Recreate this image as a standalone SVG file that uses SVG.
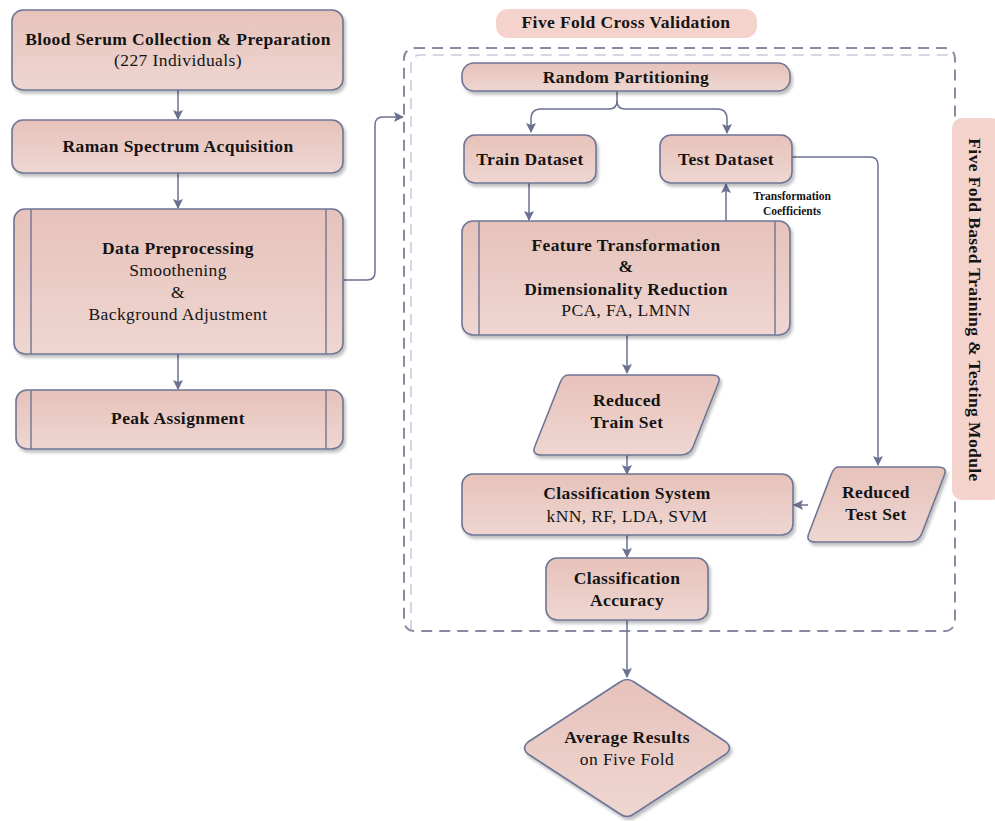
<svg xmlns="http://www.w3.org/2000/svg" width="995" height="821" viewBox="0 0 995 821">
<defs>
<linearGradient id="g" x1="0" y1="0" x2="0" y2="1">
<stop offset="0" stop-color="#e6c2ba"/>
<stop offset="1" stop-color="#efd6d1"/>
</linearGradient>
<filter id="sh" x="-10%" y="-10%" width="120%" height="130%">
<feDropShadow dx="2" dy="3" stdDeviation="1.5" flood-color="#000" flood-opacity="0.25"/>
</filter>
<marker id="ar" markerWidth="10" markerHeight="10" refX="9" refY="5" orient="auto" markerUnits="userSpaceOnUse">
<path d="M0,0 L10,5 L0,10 L2,5 Z" fill="#6b7291"/>
</marker>
</defs>
<style>
.n{fill:url(#g);stroke:#6e7595;stroke-width:1.6;filter:url(#sh)}
.il{stroke:#6e7595;stroke-width:1.4;fill:none}
.c{fill:none;stroke:#6b7291;stroke-width:1.5}
.a{marker-end:url(#ar)}
text{font-family:"Liberation Serif","Times New Roman",serif;fill:#141414;text-anchor:middle;font-size:17.5px;letter-spacing:0.4px}
.b{font-weight:bold}
.sm{font-size:11.5px;letter-spacing:0}
.lab{fill:#f4d3cd}
.dash{fill:none;stroke:#878ca3;stroke-width:2;stroke-dasharray:11 7}
.dash2{fill:none;stroke:#c9ccd6;stroke-width:1.5;stroke-dasharray:11 7}
</style>
<rect width="995" height="821" fill="#ffffff"/>

<g id="cv-frame">
<path class="dash2" d="M411,631 V65 Q411,55 421,55 H955"/>
<rect class="dash" x="404" y="48" width="551" height="583" rx="10"/>
</g>

<g id="label-cv">
<rect class="lab" x="496" y="9" width="261" height="29" rx="12"/>
<text class="b" x="626" y="28">Five Fold Cross Validation</text>
</g>

<g id="label-module">
<rect class="lab" x="952" y="118" width="50" height="382" rx="10"/>
<text class="b" transform="translate(969,310) rotate(90)">Five Fold Based Training  &amp; Testing Module</text>
</g>

<g id="connectors">
<line class="c a" x1="178" y1="90" x2="178" y2="119"/>
<line class="c a" x1="178" y1="173" x2="178" y2="208"/>
<line class="c a" x1="178" y1="354" x2="178" y2="389"/>
<path class="c a" d="M343,280 H367 Q375,280 375,272 V125 Q375,117 383,117 H403"/>
<path class="c" d="M617,91 V101 Q617,109 609,109 H541 Q531,109 531,119 V132" marker-end="url(#ar)"/>
<path class="c" d="M617,101 Q617,109 625,109 H717 Q727,109 727,119 V133" marker-end="url(#ar)"/>
<line class="c a" x1="529" y1="183" x2="529" y2="220"/>
<line class="c a" x1="726" y1="221" x2="726" y2="184"/>
<path class="c a" d="M792,157 H870 Q878,157 878,165 V465"/>
<line class="c a" x1="627" y1="335" x2="627" y2="373"/>
<line class="c a" x1="627" y1="455" x2="627" y2="474"/>
<line class="c a" x1="808" y1="505" x2="794" y2="505"/>
<line class="c a" x1="627" y1="535" x2="627" y2="557"/>
<line class="c a" x1="627" y1="620" x2="627" y2="677"/>
<text class="b sm" x="792" y="200">Transformation</text>
<text class="b sm" x="792" y="215">Coefficients</text>
</g>

<g id="blood-serum">
<rect class="n" x="12" y="10" width="331" height="80" rx="11"/>
<text class="b" x="178" y="45">Blood Serum Collection &amp; Preparation</text>
<text x="178" y="66">(227 Individuals)</text>
</g>

<g id="raman">
<rect class="n" x="12" y="120" width="331" height="53" rx="11"/>
<text class="b" x="178" y="152">Raman Spectrum Acquisition</text>
</g>

<g id="preprocessing">
<rect class="n" x="14" y="209" width="329" height="145" rx="11"/>
<line class="il" x1="31" y1="209" x2="31" y2="354"/>
<line class="il" x1="326" y1="209" x2="326" y2="354"/>
<text class="b" x="178" y="254">Data Preprocessing</text>
<text x="178" y="276">Smoothening</text>
<text x="178" y="298">&amp;</text>
<text x="178" y="320">Background Adjustment</text>
</g>

<g id="peak">
<rect class="n" x="16" y="390" width="327" height="59" rx="11"/>
<line class="il" x1="31" y1="390" x2="31" y2="449"/>
<line class="il" x1="326" y1="390" x2="326" y2="449"/>
<text class="b" x="178" y="424">Peak Assignment</text>
</g>

<g id="random-partitioning">
<rect class="n" x="462" y="63" width="328" height="28" rx="12"/>
<text class="b" x="626" y="83">Random Partitioning</text>
</g>

<g id="train-dataset">
<rect class="n" x="464" y="135" width="132" height="48" rx="11"/>
<text class="b" x="530" y="165">Train Dataset</text>
</g>

<g id="test-dataset">
<rect class="n" x="660" y="135" width="132" height="48" rx="11"/>
<text class="b" x="726" y="165">Test Dataset</text>
</g>

<g id="feature">
<rect class="n" x="462" y="221" width="328" height="114" rx="11"/>
<line class="il" x1="479" y1="221" x2="479" y2="335"/>
<line class="il" x1="775" y1="221" x2="775" y2="335"/>
<text class="b" x="626" y="251">Feature Transformation</text>
<text class="b" x="626" y="272">&amp;</text>
<text class="b" x="626" y="295">Dimensionality Reduction</text>
<text x="626" y="316">PCA, FA, LMNN</text>
</g>

<g id="reduced-train">
<path class="n" d="M568,375 H712 Q722,375 718,384 L693,447 Q690,455 680,455 H542 Q531,455 535,446 L560,383 Q563,375 568,375 Z"/>
<text class="b" x="627" y="406">Reduced</text>
<text class="b" x="627" y="428">Train Set</text>
</g>

<g id="classification-system">
<rect class="n" x="462" y="474" width="331" height="61" rx="11"/>
<text class="b" x="627" y="499">Classification System</text>
<text x="627" y="522">kNN, RF, LDA, SVM</text>
</g>

<g id="reduced-test">
<path class="n" d="M838,467 H938 Q948,467 944,476 L922,533 Q919,542 909,542 H816 Q805,542 809,533 L831,475 Q834,467 838,467 Z"/>
<text class="b" x="876" y="498">Reduced</text>
<text class="b" x="876" y="520">Test Set</text>
</g>

<g id="accuracy">
<rect class="n" x="546" y="558" width="162" height="62" rx="11"/>
<text class="b" x="627" y="584">Classification</text>
<text class="b" x="627" y="606">Accuracy</text>
</g>

<g id="average">
<path class="n" d="M620,682 Q627,677 634,682 L726,742 Q733,748 726,754 L634,814 Q627,819 620,814 L528,754 Q521,748 528,742 Z"/>
<text class="b" x="627" y="743">Average Results</text>
<text x="627" y="765">on Five Fold</text>
</g>
</svg>
